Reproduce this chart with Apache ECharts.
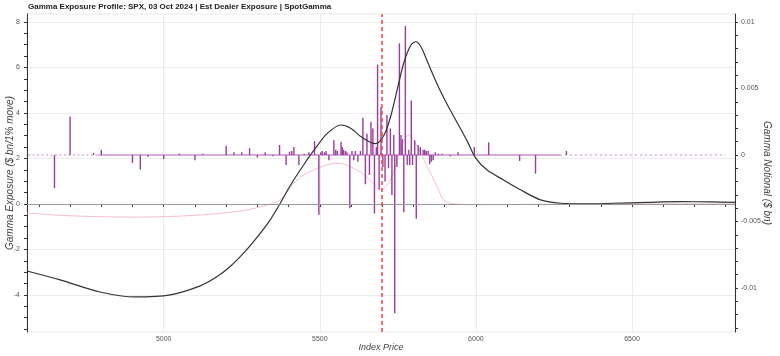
<!DOCTYPE html>
<html><head><meta charset="utf-8">
<script src="https://cdn.jsdelivr.net/npm/echarts@6/dist/echarts.min.js"></script>
<style>html,body{margin:0;padding:0;background:#fff}#c{width:780px;height:356px}</style>
</head><body><div id="c"></div>
<script>
const titleText = 'Gamma Exposure Profile: SPX, 03 Oct 2024 | Est Dealer Exposure | SpotGamma';
const spotPrice = 5697;

const curveStrikes = [4562, 4668, 4796, 4909, 5021, 5117, 5165, 5213, 5260, 5300, 5340, 5372, 5405, 5448, 5486, 5524, 5567, 5599, 5631, 5663, 5679, 5706, 5728, 5749, 5770, 5792, 5808, 5824, 5845, 5877, 5909, 5941, 5973, 6000, 6036, 6089, 6143, 6207, 6271, 6356, 6441, 6550, 6656, 6750, 6830];
const gammaExposure = [-2.95, -3.34, -3.87, -4.09, -4.0, -3.6, -3.25, -2.75, -2.1, -1.45, -0.72, 0, 0.8, 1.71, 2.45, 3.1, 3.47, 3.33, 2.96, 2.7, 2.65, 3.03, 3.9, 5.09, 6.25, 6.99, 7.13, 6.91, 6.25, 5.23, 4.35, 3.55, 2.74, 2.0, 1.49, 1.05, 0.62, 0.18, 0.03, 0, 0.03, 0.07, 0.1, 0.09, 0.07];

const pinkStrikes = [4562, 4700, 4900, 5100, 5250, 5330, 5373, 5427, 5480, 5555, 5619, 5672, 5694, 5726, 5758, 5785, 5812, 5844, 5876, 5897, 5930, 6000, 6200, 6500, 6830];
const pinkValues = [-0.4, -0.52, -0.58, -0.5, -0.3, -0.05, 0.18, 1.05, 1.49, 1.79, 1.49, 0.91, 0.62, 1.05, 2.37, 3.03, 2.52, 1.64, 0.76, 0.18, 0.0, -0.03, -0.02, 0, 0];

const barStrikes = [4650, 4700, 4775, 4800, 4900, 4925, 4950, 5000, 5050, 5100, 5125, 5200, 5225, 5250, 5275, 5300, 5325, 5350, 5371, 5392, 5403, 5410, 5417, 5433, 5450, 5465, 5483, 5497, 5503, 5508, 5515, 5520, 5529, 5545, 5551, 5556, 5568, 5572, 5576, 5582, 5587, 5596, 5603, 5609, 5614, 5622, 5630, 5638, 5646, 5651, 5659, 5664, 5670, 5675, 5681, 5685, 5690, 5696, 5702, 5709, 5715, 5720, 5726, 5731, 5737, 5740, 5747, 5755, 5760, 5764, 5769, 5774, 5780, 5785, 5788, 5793, 5797, 5804, 5809, 5815, 5822, 5831, 5836, 5841, 5847, 5852, 5857, 5863, 5870, 5879, 5892, 5918, 5943, 5995, 6041, 6140, 6191, 6290];
const barValues = [-0.0025, 0.0029, 0.00015, 0.0004, -0.0006, -0.0011, -0.00013, -0.0003, 0.0001, -0.0004, 0.0001, 0.0007, 0.0002, 0.0002, 0.0005, -0.0002, 0.0002, -0.0001, 0.00075, -0.00075, 0.00025, 0.0003, 0.0006, -0.00075, 0.0001, 0.0002, 0.00105, -0.0045, 0.0002, 0.0003, 0.0002, 0.0003, -0.0004, 0.0011, 0.0004, 0.0003, 0.001, 0.0006, 0.0004, 0.0003, 0.0002, -0.004, 0.0003, -0.0004, 0.0003, -0.0005, 0.0003, 0.0028, -0.0022, 0.0016, -0.0015, 0.0025, 0.002, -0.0044, 0.0006, 0.0068, -0.0026, 0.0036, -0.0009, -0.002, 0.003, -0.001, 0.002, -0.003, 0.0015, -0.0119, -0.0009, 0.0084, 0.0015, 0.0012, -0.0043, 0.0097, -0.00075, 0.0004, -0.00075, 0.0041, -0.00075, 0.0011, -0.0048, 0.00075, 0.0006, 0.0004, 0.0004, 0.0003, 0.0003, -0.0007, -0.0005, -0.0004, 0.0002, 0.0001, 0.0001, -0.0001, 0.0002, 0.0006, 0.00095, -0.00045, -0.0014, 0.0003];

const xTickValues = [4600, 4700, 4800, 4900, 5000, 5100, 5200, 5300, 5400, 5500, 5600, 5700, 5800, 5900, 6000, 6100, 6200, 6300, 6400, 6500, 6600, 6700, 6800];
const xLabelValues = [5000, 5500, 6000, 6500];
const leftTickValues = [-5.5, -5, -4.5, -4, -3.5, -3, -2.5, -2, -1.5, -1, -0.5, 0, 0.5, 1, 1.5, 2, 2.5, 3, 3.5, 4, 4.5, 5, 5.5, 6, 6.5, 7, 7.5, 8];
const leftLabelValues = [-4, -2, 0, 2, 4, 6, 8];
const rightTickValues = [-0.013, -0.012, -0.011, -0.01, -0.009, -0.008, -0.007, -0.006, -0.005, -0.004, -0.003, -0.002, -0.001, 0, 0.001, 0.002, 0.003, 0.004, 0.005, 0.006, 0.007, 0.008, 0.009, 0.01];
const rightLabelValues = [-0.01, -0.005, 0, 0.005, 0.01];

const zip = (a, b) => a.map((v, i) => [v, b[i]]);
const FONT = 'Liberation Sans';
const axisCol = '#333';
const labelStyle = { fontSize: 7, color: '#555', fontFamily: FONT };
const nameStyle = { fontSize: 9, color: '#444', fontStyle: 'italic', fontFamily: FONT };
const yNameStyle = { fontSize: 10, color: '#444', fontStyle: 'italic', fontFamily: FONT };

const chart = echarts.init(document.getElementById('c'), null, { renderer: 'canvas' });
chart.setOption({
  animation: false,
  backgroundColor: '#fff',
  title: { text: titleText, left: 23, top: -2, textStyle: { fontSize: 8, fontWeight: 'bold', color: '#222', fontFamily: FONT } },
  grid: { left: 27, right: 45, top: 14, bottom: 24, containLabel: false, outerBoundsMode: 'none', show: true, borderColor: '#e8e8e8', borderWidth: 1 },
  xAxis: {
    type: 'value', min: 4562, max: 6830,
    name: 'Index Price', nameLocation: 'middle', nameGap: 11, nameMoveOverlap: false, nameTextStyle: nameStyle,
    axisLine: { show: true, lineStyle: { color: axisCol, width: 1 } },
    axisTick: { show: true, customValues: xTickValues, length: 3, lineStyle: { color: axisCol } },
    axisLabel: Object.assign({ customValues: xLabelValues, margin: 4, formatter: v => String(v) }, labelStyle),
    splitLine: { show: false }
  },
  yAxis: [{
    type: 'value', position: 'left', min: -5.63, max: 8.35,
    name: 'Gamma Exposure ($ bn/1% move)', nameLocation: 'middle', nameGap: 12, nameMoveOverlap: false, nameTextStyle: yNameStyle,
    axisLine: { show: true, lineStyle: { color: axisCol, width: 1 } },
    axisTick: { show: true, customValues: leftTickValues, length: 3, lineStyle: { color: axisCol } },
    axisLabel: Object.assign({ customValues: leftLabelValues, margin: 7, formatter: v => String(v) }, labelStyle),
    splitLine: { show: false }
  }, {
    type: 'value', position: 'right', min: -0.01331, max: 0.0106,
    name: 'Gamma Notional ($ bn)', nameLocation: 'middle', nameGap: 27, nameRotate: -90, nameMoveOverlap: false, nameTextStyle: yNameStyle,
    axisLine: { show: true, lineStyle: { color: axisCol, width: 1 } },
    axisTick: { show: true, customValues: rightTickValues, length: 3, lineStyle: { color: axisCol } },
    axisLabel: Object.assign({ customValues: rightLabelValues, margin: 6, formatter: v => (v === 0 ? '0' : String(v)) }, labelStyle),
    splitLine: { show: false }
  }],
  series: [{
    type: 'line', name: 'pink', xAxisIndex: 0, yAxisIndex: 0, z: 2,
    data: zip(pinkStrikes, pinkValues), smooth: 0.35, showSymbol: false, silent: true,
    lineStyle: { color: '#f5bfca', width: 1 },
    markLine: {
      z: 0, silent: true, symbol: 'none', label: { show: false },
      lineStyle: { color: '#ececec', width: 1, type: 'solid' },
      data: leftLabelValues.filter(v => v !== 0).map(v => ({ yAxis: v }))
        .concat(xLabelValues.map(v => ({ xAxis: v })))
    }
  }, {
    type: 'bar', name: 'notional', xAxisIndex: 0, yAxisIndex: 1, z: 3,
    data: zip(barStrikes, barValues), barWidth: 1.4, silent: true,
    itemStyle: { color: '#9a3c9c' },
    markLine: {
      z: 1, silent: true, symbol: 'none', label: { show: false },
      data: [
        [{ coord: [4566, 0], lineStyle: { color: '#cf9fd2', width: 1.5, type: [1.5, 3] } }, { coord: [4790, 0] }],
        [{ coord: [4790, 0], lineStyle: { color: '#d9acdb', width: 2, type: 'solid' } }, { coord: [6270, 0] }],
        [{ coord: [6270, 0], lineStyle: { color: '#cf9fd2', width: 1.5, type: [1.5, 3.5] } }, { coord: [6800, 0] }]
      ]
    }
  }, {
    type: 'line', name: 'gamma', xAxisIndex: 0, yAxisIndex: 0, z: 4,
    data: zip(curveStrikes, gammaExposure), smooth: 0.3, showSymbol: false, silent: true,
    lineStyle: { color: '#333', width: 1.2 },
    markLine: {
      z: 5, silent: true, symbol: 'none', label: { show: false },
      data: [
        { yAxis: 0, lineStyle: { color: '#999', width: 1, type: 'solid' } },
        { xAxis: spotPrice, lineStyle: { color: '#f0443a', width: 1.5, type: [4, 3] } }
      ]
    }
  }]
});
</script>
</body></html>
